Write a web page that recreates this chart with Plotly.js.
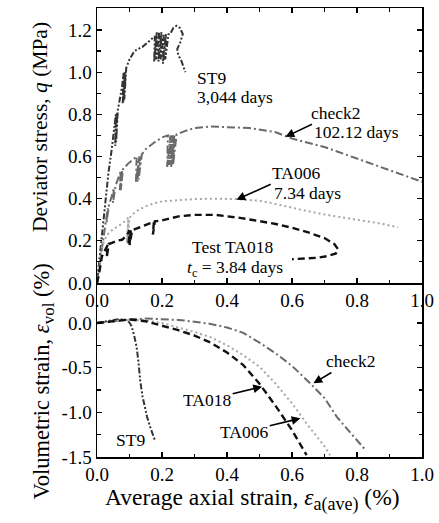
<!DOCTYPE html>
<html>
<head>
<meta charset="utf-8">
<script src="https://cdn.plot.ly/plotly-3.0.1.min.js"></script>
<style>html,body{margin:0;padding:0;background:#fff;}#chart{width:439px;height:523px;}</style>
</head>
<body>
<div id="chart"></div>
<script>
// ---- Top panel: deviator stress q (MPa) vs average axial strain (%) ----
const st9Strain = [0, 0.008, 0.016, 0.025, 0.035, 0.045, 0.052, 0.058, 0.056, 0.06, 0.057, 0.062, 0.059, 0.064, 0.07, 0.077, 0.082, 0.079, 0.085, 0.081, 0.088, 0.084, 0.09, 0.1, 0.115, 0.14, 0.165, 0.178, 0.176, 0.184, 0.182, 0.191, 0.189, 0.198, 0.196, 0.205, 0.203, 0.212, 0.21, 0.22, 0.225, 0.235, 0.245, 0.255, 0.264, 0.256, 0.247, 0.25, 0.258, 0.265, 0.272];
const st9Q = [0, 0.12, 0.25, 0.38, 0.52, 0.63, 0.72, 0.8, 0.65, 0.8, 0.66, 0.81, 0.67, 0.82, 0.87, 0.93, 1.0, 0.85, 1.0, 0.86, 1.0, 0.87, 1.02, 1.06, 1.1, 1.12, 1.15, 1.17, 1.05, 1.19, 1.06, 1.19, 1.05, 1.19, 1.06, 1.18, 1.04, 1.18, 1.06, 1.18, 1.18, 1.21, 1.22, 1.21, 1.18, 1.14, 1.11, 1.08, 1.06, 1.03, 1.0];

const check2Strain = [0, 0.008, 0.018, 0.027, 0.033, 0.029, 0.035, 0.031, 0.037, 0.045, 0.052, 0.049, 0.055, 0.051, 0.057, 0.066, 0.073, 0.07, 0.077, 0.073, 0.08, 0.095, 0.11, 0.122, 0.12, 0.13, 0.124, 0.134, 0.128, 0.138, 0.15, 0.175, 0.2, 0.218, 0.216, 0.226, 0.222, 0.232, 0.228, 0.238, 0.234, 0.245, 0.27, 0.3, 0.35, 0.4, 0.47, 0.55, 0.6, 0.7, 0.75, 0.8, 0.9, 1.0];
const check2Q = [0, 0.09, 0.2, 0.29, 0.355, 0.285, 0.36, 0.29, 0.37, 0.41, 0.45, 0.38, 0.45, 0.385, 0.46, 0.5, 0.53, 0.44, 0.53, 0.44, 0.54, 0.565, 0.585, 0.6, 0.48, 0.6, 0.48, 0.6, 0.49, 0.61, 0.635, 0.665, 0.69, 0.7, 0.55, 0.7, 0.56, 0.7, 0.55, 0.7, 0.56, 0.705, 0.72, 0.735, 0.742, 0.74, 0.735, 0.715, 0.685, 0.645, 0.617, 0.59, 0.535, 0.48];

const ta006Strain = [0, 0.008, 0.015, 0.025, 0.036, 0.05, 0.066, 0.08, 0.092, 0.096, 0.092, 0.097, 0.094, 0.1, 0.12, 0.149, 0.175, 0.2, 0.25, 0.3, 0.36, 0.43, 0.5, 0.55, 0.625, 0.7, 0.8, 0.88, 0.926];
const ta006Q = [0, 0.09, 0.17, 0.21, 0.237, 0.255, 0.27, 0.285, 0.3, 0.31, 0.19, 0.3, 0.2, 0.31, 0.34, 0.363, 0.378, 0.387, 0.394, 0.398, 0.4, 0.398, 0.39, 0.375, 0.348, 0.325, 0.3, 0.28, 0.264];

const ta018Strain = [0, 0.006, 0.015, 0.025, 0.033, 0.03, 0.036, 0.046, 0.06, 0.077, 0.092, 0.1, 0.097, 0.104, 0.1, 0.108, 0.13, 0.149, 0.17, 0.175, 0.172, 0.178, 0.2, 0.251, 0.302, 0.364, 0.44, 0.5, 0.55, 0.6, 0.65, 0.7, 0.73, 0.742, 0.735, 0.71, 0.68, 0.64, 0.6];
const ta018Q = [0, 0.04, 0.126, 0.16, 0.18, 0.12, 0.185, 0.19, 0.2, 0.205, 0.225, 0.25, 0.18, 0.25, 0.18, 0.25, 0.262, 0.276, 0.285, 0.29, 0.23, 0.292, 0.297, 0.316, 0.323, 0.323, 0.309, 0.295, 0.28, 0.262, 0.24, 0.213, 0.185, 0.16, 0.14, 0.128, 0.12, 0.116, 0.113];

// ---- Bottom panel: volumetric strain (%) vs average axial strain (%) ----
const st9VolStrain = [0, 0.02, 0.04, 0.06, 0.08, 0.092, 0.1, 0.107, 0.115, 0.122, 0.128, 0.133, 0.14, 0.147, 0.154, 0.165, 0.179];
const st9Vol = [0, 0.015, 0.03, 0.04, 0.04, 0.03, 0.005, -0.04, -0.15, -0.27, -0.45, -0.65, -0.82, -0.95, -1.05, -1.18, -1.32];

const check2VolStrain = [0, 0.05, 0.1, 0.15, 0.2, 0.25, 0.3, 0.35, 0.4, 0.45, 0.5, 0.55, 0.6, 0.656, 0.7, 0.738, 0.78, 0.826];
const check2Vol = [0, 0.02, 0.04, 0.05, 0.045, 0.035, 0.015, -0.01, -0.05, -0.11, -0.22, -0.34, -0.48, -0.675, -0.84, -1.05, -1.23, -1.42];

const ta018VolStrain = [0, 0.05, 0.1, 0.15, 0.2, 0.25, 0.3, 0.35, 0.4, 0.45, 0.5, 0.55, 0.6, 0.645];
const ta018Vol = [0, 0.02, 0.04, 0.02, -0.03, -0.08, -0.14, -0.22, -0.33, -0.47, -0.68, -0.93, -1.2, -1.48];

const ta006VolStrain = [0, 0.05, 0.1, 0.15, 0.2, 0.25, 0.3, 0.35, 0.4, 0.45, 0.5, 0.55, 0.6, 0.65, 0.7, 0.717];
const ta006Vol = [0, 0.02, 0.035, 0.03, 0.0, -0.05, -0.1, -0.16, -0.25, -0.36, -0.49, -0.68, -0.9, -1.15, -1.38, -1.48];

// ---- Tick values / labels ----
const strainTicks = [0, 0.2, 0.4, 0.6, 0.8, 1.0];
const strainTickText = ['0.0', '0.2', '0.4', '0.6', '0.8', '1.0'];
const strainMinor = [0.1, 0.3, 0.5, 0.7, 0.9];
const qTicks = [0, 0.2, 0.4, 0.6, 0.8, 1.0, 1.2];
const qTickText = ['0.0', '0.2', '0.4', '0.6', '0.8', '1.0', '1.2'];
const qMinor = [0.1, 0.3, 0.5, 0.7, 0.9, 1.1];
const volTicks = [0, -0.5, -1.0, -1.5];
const volTickText = ['0.0', '-0.5', '-1.0', '-1.5'];
const volMinor = [-0.25, -0.75, -1.25];

const SERIF = 'Liberation Serif, Times New Roman, serif';

const styleST9 = {color: '#333333', width: 2, dash: '6px,2px,2px,2px,2px,2px'};
const styleCheck2 = {color: '#6a6a6a', width: 2, dash: '8px,3px,2px,3px'};
const styleTA006 = {color: '#a6a6a6', width: 2, dash: '2px,3px'};
const styleTA018 = {color: '#111111', width: 2.4, dash: '7px,4px'};

const traces = [
  {x: st9Strain, y: st9Q, xaxis: 'x', yaxis: 'y', mode: 'lines', line: styleST9, name: 'ST9'},
  {x: check2Strain, y: check2Q, xaxis: 'x', yaxis: 'y', mode: 'lines', line: styleCheck2, name: 'check2'},
  {x: ta006Strain, y: ta006Q, xaxis: 'x', yaxis: 'y', mode: 'lines', line: styleTA006, name: 'TA006'},
  {x: ta018Strain, y: ta018Q, xaxis: 'x', yaxis: 'y', mode: 'lines', line: styleTA018, name: 'TA018'},
  {x: st9VolStrain, y: st9Vol, xaxis: 'x2', yaxis: 'y2', mode: 'lines', line: styleST9, name: 'ST9'},
  {x: check2VolStrain, y: check2Vol, xaxis: 'x2', yaxis: 'y2', mode: 'lines', line: styleCheck2, name: 'check2'},
  {x: ta006VolStrain, y: ta006Vol, xaxis: 'x2', yaxis: 'y2', mode: 'lines', line: styleTA006, name: 'TA006'},
  {x: ta018VolStrain, y: ta018Vol, xaxis: 'x2', yaxis: 'y2', mode: 'lines', line: styleTA018, name: 'TA018'}
];

const tickFont = {family: SERIF, size: 19, color: '#000'};
function axisBase(extra) {
  return Object.assign({
    ticks: 'inside', ticklen: 5, tickwidth: 1.2, tickcolor: '#000',
    showline: true, linecolor: '#000', linewidth: 1.5,
    showgrid: false, zeroline: false, tickfont: tickFont,
    tickmode: 'array', fixedrange: true
  }, extra);
}
const minorStyle = {ticks: 'inside', ticklen: 3.5, tickwidth: 1.1, tickcolor: '#000', tickmode: 'array'};

const split = 0.3875;
const annFont = {family: SERIF, size: 17.5, color: '#000'};
function label(text, x, y, xref, yref, anchor) {
  return {text: text, x: x, y: y, xref: xref, yref: yref, showarrow: false,
          xanchor: anchor || 'left', yanchor: 'middle', font: annFont};
}
// label with an arrow: text centred at (tx, ty), arrow head at (hx, hy)
function arrowLabel(text, tx, ty, hx, hy, xref, yref) {
  return {text: text, x: hx, y: hy, ax: tx, ay: ty, xref: xref, yref: yref,
          axref: xref, ayref: yref, showarrow: true, arrowhead: 2,
          arrowsize: 1.1, arrowwidth: 1.6, arrowcolor: '#000', font: annFont};
}

const annotations = [
  label('ST9', 0.302, 0.973, 'x', 'y'),
  label('3,044 days', 0.302, 0.883, 'x', 'y'),
  arrowLabel('check2', 0.736, 0.807, 0.58, 0.693, 'x', 'y'),
  label('102.12 days', 0.662, 0.717, 'x', 'y'),
  arrowLabel('TA006', 0.613, 0.522, 0.429, 0.395, 'x', 'y'),
  label('7.34 days', 0.539, 0.428, 'x', 'y'),
  label('Test TA018', 0.287, 0.172, 'x', 'y'),
  label('<i>t</i><sub>c</sub> = 3.84 days', 0.272, 0.067, 'x', 'y'),
  arrowLabel('check2', 0.78, -0.425, 0.666, -0.675, 'x2', 'y2'),
  arrowLabel('TA018', 0.339, -0.862, 0.508, -0.713, 'x2', 'y2'),
  arrowLabel('TA006', 0.453, -1.22, 0.626, -1.067, 'x2', 'y2'),
  label('ST9', 0.102, -1.31, 'x2', 'y2', 'center'),
  {text: 'Deviator stress, <i>q</i> (MPa)', x: -0.175, y: 0.735, xref: 'paper', yref: 'paper',
   showarrow: false, textangle: -90, xanchor: 'center', yanchor: 'middle',
   font: {family: SERIF, size: 21.5, color: '#000'}},
  {text: 'Volumetric strain, <i>ε</i><sub><span style="font-size:17px">vol</span></sub> (%)', x: -0.163, y: 0.168, xref: 'paper', yref: 'paper',
   showarrow: false, textangle: -90, xanchor: 'center', yanchor: 'middle',
   font: {family: SERIF, size: 22.5, color: '#000'}},
  {text: 'Average axial strain, <i>ε</i><sub><span style="font-size:18px">a(ave)</span></sub> (%)', x: 0.477, y: -0.095, xref: 'paper', yref: 'paper',
   showarrow: false, xanchor: 'center', yanchor: 'middle',
   font: {family: SERIF, size: 23.5, color: '#000'}}
];

const layout = {
  width: 439, height: 523,
  margin: {l: 97, r: 17, t: 8, b: 66, pad: 0},
  paper_bgcolor: '#fff', plot_bgcolor: '#fff',
  showlegend: false,
  xaxis: axisBase({domain: [0, 1], anchor: 'y', range: [0, 1], tickvals: strainTicks, ticktext: strainTickText,
    mirror: 'ticks', minor: Object.assign({tickvals: strainMinor}, minorStyle)}),
  yaxis: axisBase({domain: [split, 1], anchor: 'x', range: [0, 1.304], tickvals: qTicks, ticktext: qTickText,
    mirror: 'ticks', minor: Object.assign({tickvals: qMinor}, minorStyle)}),
  xaxis2: axisBase({domain: [0, 1], anchor: 'y2', range: [0, 1], tickvals: strainTicks, ticktext: strainTickText,
    mirror: false, minor: Object.assign({tickvals: strainMinor}, minorStyle)}),
  yaxis2: axisBase({domain: [0, split], anchor: 'x2', range: [-1.5, 0.448], tickvals: volTicks, ticktext: volTickText,
    mirror: 'ticks', minor: Object.assign({tickvals: volMinor}, minorStyle)}),
  annotations: annotations
};

Plotly.newPlot('chart', traces, layout, {staticPlot: true, displayModeBar: false});
</script>
</body>
</html>
